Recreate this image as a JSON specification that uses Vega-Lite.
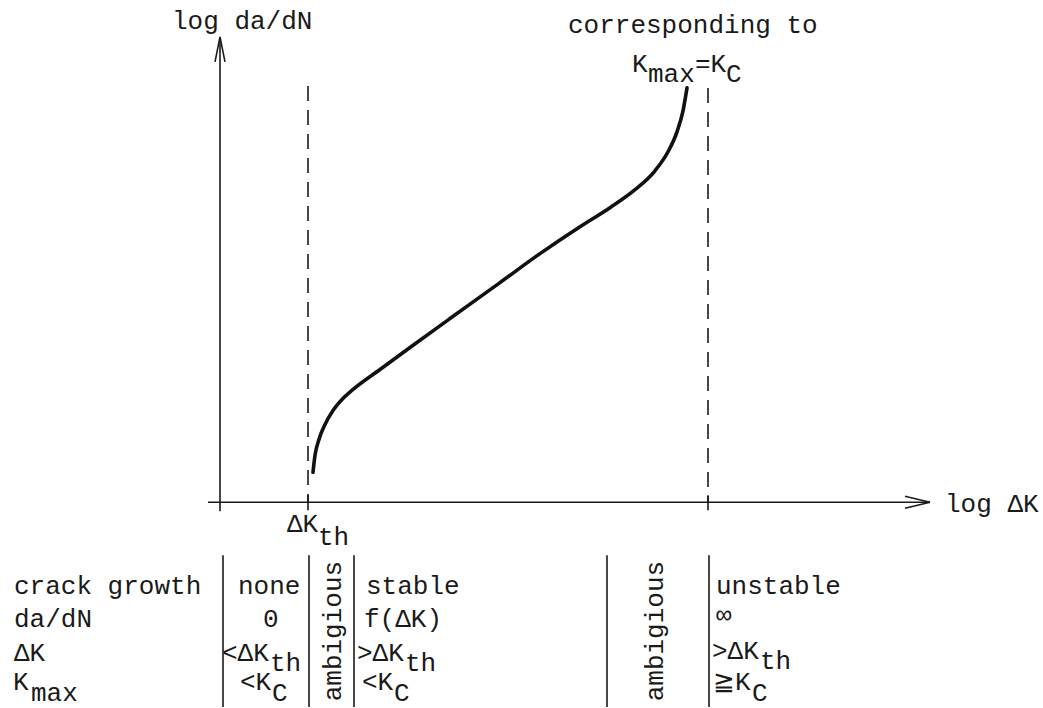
{
  "$schema": "https://vega.github.io/schema/vega-lite/v6.json",
  "autosize": {"type": "fit", "contains": "padding"},
  "width": 1043,
  "height": 708,
  "padding": 0,
  "background": "white",
  "config": {"view": {"stroke": null}},
  "datasets": {
    "solid": [
      {"x": 208, "y": 503, "x2": 930, "y2": 503},
      {"x": 220, "y": 512, "x2": 220, "y2": 37},
      {"x": 905, "y": 497, "x2": 930, "y2": 503},
      {"x": 905, "y": 509, "x2": 930, "y2": 503},
      {"x": 215, "y": 62, "x2": 220, "y2": 37},
      {"x": 225, "y": 62, "x2": 220, "y2": 37},
      {"x": 308, "y": 496, "x2": 308, "y2": 511},
      {"x": 708, "y": 496, "x2": 708, "y2": 511},
      {"x": 223, "y": 556, "x2": 223, "y2": 708},
      {"x": 309, "y": 556, "x2": 309, "y2": 708},
      {"x": 354, "y": 556, "x2": 354, "y2": 708},
      {"x": 607, "y": 556, "x2": 607, "y2": 708},
      {"x": 709, "y": 556, "x2": 709, "y2": 708}
    ],
    "dashed": [
      {"x": 308, "y": 86, "x2": 308, "y2": 503},
      {"x": 708, "y": 88, "x2": 708, "y2": 503}
    ],
    "curve": [
      {"i": 1, "x": 313, "y": 473},
      {"i": 2, "x": 315, "y": 456},
      {"i": 3, "x": 319, "y": 440},
      {"i": 4, "x": 325, "y": 425},
      {"i": 5, "x": 333, "y": 411},
      {"i": 6, "x": 342, "y": 400},
      {"i": 7, "x": 353, "y": 390},
      {"i": 8, "x": 380, "y": 370},
      {"i": 9, "x": 410, "y": 348},
      {"i": 10, "x": 450, "y": 319},
      {"i": 11, "x": 500, "y": 283},
      {"i": 12, "x": 540, "y": 254},
      {"i": 13, "x": 580, "y": 227},
      {"i": 14, "x": 610, "y": 208},
      {"i": 15, "x": 635, "y": 190},
      {"i": 16, "x": 655, "y": 171},
      {"i": 17, "x": 668, "y": 152},
      {"i": 18, "x": 677, "y": 132},
      {"i": 19, "x": 683, "y": 111},
      {"i": 20, "x": 687, "y": 88}
    ],
    "labels": [
      {"x": 172, "y": 29, "t": "log da/dN"},
      {"x": 568, "y": 33, "t": "corresponding to"},
      {"x": 632, "y": 72, "t": "K"},
      {"x": 648, "y": 82, "t": "max"},
      {"x": 695, "y": 72, "t": "=K"},
      {"x": 726, "y": 82, "t": "C"},
      {"x": 287, "y": 533, "t": "ΔK"},
      {"x": 318, "y": 546, "t": "th"},
      {"x": 945, "y": 513, "t": "log ΔK"},
      {"x": 14, "y": 595, "t": "crack growth"},
      {"x": 14, "y": 628, "t": "da/dN"},
      {"x": 14, "y": 662, "t": "ΔK"},
      {"x": 13, "y": 691, "t": "K"},
      {"x": 31, "y": 702, "t": "max"},
      {"x": 238, "y": 595, "t": "none"},
      {"x": 263, "y": 628, "t": "0"},
      {"x": 222, "y": 662, "t": "<ΔK"},
      {"x": 270, "y": 672, "t": "th"},
      {"x": 240, "y": 691, "t": "<K"},
      {"x": 272, "y": 702, "t": "C"},
      {"x": 366, "y": 595, "t": "stable"},
      {"x": 364, "y": 628, "t": "f(ΔK)"},
      {"x": 357, "y": 662, "t": ">ΔK"},
      {"x": 405, "y": 672, "t": "th"},
      {"x": 362, "y": 691, "t": "<K"},
      {"x": 394, "y": 702, "t": "C"},
      {"x": 716, "y": 595, "t": "unstable"},
      {"x": 716, "y": 624, "t": "∞"},
      {"x": 712, "y": 660, "t": ">ΔK"},
      {"x": 760, "y": 670, "t": "th"},
      {"x": 713, "y": 691, "t": "≧K"},
      {"x": 752, "y": 702, "t": "C"}
    ],
    "vlabels": [
      {"x": 341, "y": 632, "t": "ambigious"},
      {"x": 663, "y": 632, "t": "ambigious"}
    ]
  },
  "encoding": {
    "x": {"field": "x", "type": "quantitative", "scale": {"domain": [0, 1043], "nice": false, "zero": false}, "axis": null},
    "y": {"field": "y", "type": "quantitative", "scale": {"domain": [0, 708], "nice": false, "zero": false, "reverse": true}, "axis": null}
  },
  "layer": [
    {
      "data": {"name": "solid"},
      "mark": {"type": "rule", "stroke": "#1a1a1a", "strokeWidth": 1.6},
      "encoding": {"x2": {"field": "x2"}, "y2": {"field": "y2"}}
    },
    {
      "data": {"name": "dashed"},
      "mark": {"type": "rule", "stroke": "#1a1a1a", "strokeWidth": 1.6, "strokeDash": [15, 9]},
      "encoding": {"x2": {"field": "x2"}, "y2": {"field": "y2"}}
    },
    {
      "data": {"name": "curve"},
      "mark": {"type": "line", "stroke": "#111", "strokeWidth": 3.6, "interpolate": "monotone", "strokeCap": "round"},
      "encoding": {"order": {"field": "i", "type": "quantitative"}}
    },
    {
      "data": {"name": "labels"},
      "mark": {"type": "text", "align": "left", "baseline": "alphabetic", "font": "Liberation Mono", "fontSize": 26, "fill": "#1a1a1a"},
      "encoding": {"text": {"field": "t"}}
    },
    {
      "data": {"name": "vlabels"},
      "mark": {"type": "text", "align": "center", "baseline": "alphabetic", "angle": 270, "font": "Liberation Mono", "fontSize": 26, "fill": "#1a1a1a"},
      "encoding": {"text": {"field": "t"}}
    }
  ]
}
